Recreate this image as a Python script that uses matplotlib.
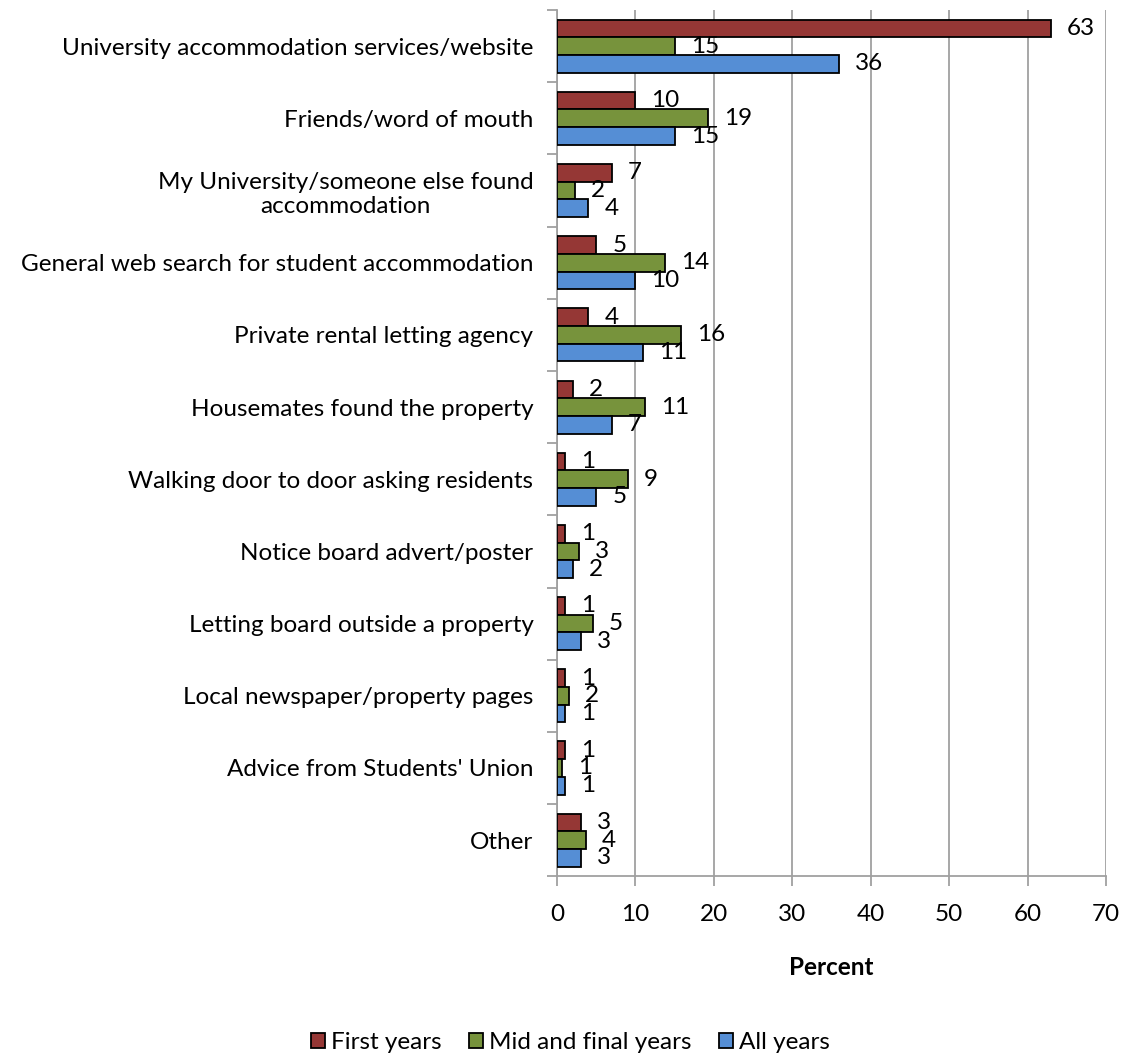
import numpy as np
import matplotlib.pyplot as plt
from matplotlib.ticker import FixedLocator

plt.rcParams['font.family'] = ['Lato', 'DejaVu Sans']
plt.rcParams['font.size'] = 17.5

categories = [
    'University accommodation services/website',
    'Friends/word of mouth',
    'My University/someone else found\naccommodation',
    'General web search for student accommodation',
    'Private rental letting agency',
    'Housemates found the property',
    'Walking door to door asking residents',
    'Notice board advert/poster',
    'Letting board outside a property',
    'Local newspaper/property pages',
    "Advice from Students' Union",
    'Other',
]
first_years = [63, 10, 7, 5, 4, 2, 1, 1, 1, 1, 1, 3]
mid_final = [15, 19.3, 2.3, 13.8, 15.8, 11.2, 9, 2.8, 4.6, 1.5, 0.7, 3.7]
all_years = [36, 15, 4, 10, 11, 7, 5, 2, 3, 1, 1, 3]

series = [
    ('First years', first_years, '#953735'),
    ('Mid and final years', mid_final, '#77933C'),
    ('All years', all_years, '#558ED5'),
]

n = len(categories)
y = np.arange(n)[::-1]
h = 0.245

fig = plt.figure(figsize=(11.23, 10.57), dpi=100)
ax = fig.add_axes([0.496, 0.171, 0.489, 0.8195])

for i, (name, vals, col) in enumerate(series):
    pos = y + (1 - i) * h
    bars = ax.barh(pos, vals, height=h, color=col, edgecolor='black',
                   linewidth=1.3, label=name, zorder=3)
    # value labels just past the end of each bar
    for b, v in zip(bars, vals):
        ax.annotate(f'{v:.0f}', (b.get_width(), b.get_y() + b.get_height() / 2),
                    xytext=(16, 0), textcoords='offset pixels',
                    ha='left', va='center', zorder=4)

ax.set_xlim(0, 70)
ax.set_ylim(-0.5, n - 0.5)
ax.set_xticks(np.arange(0, 71, 10))
ax.grid(axis='x', color='#A0A0A0', linewidth=1.3, zorder=0)
ax.set_yticks(y)
ax.set_yticklabels(categories, multialignment='center')
ax.yaxis.set_minor_locator(FixedLocator(np.arange(-0.5, n, 1)))
ax.tick_params(axis='y', which='major', length=0, pad=17)
ax.tick_params(axis='y', which='minor', length=7, width=1.3, color='#A0A0A0')
ax.tick_params(axis='x', length=7, width=1.3, color='#A0A0A0', pad=13)

for s in ['top', 'right']:
    ax.spines[s].set_visible(False)
for s in ['left', 'bottom']:
    ax.spines[s].set_color('#A0A0A0')
    ax.spines[s].set_linewidth(1.3)

ax.set_xlabel('Percent', fontweight='bold', labelpad=22)

fig.legend(loc='center', bbox_to_anchor=(0.508, 0.0135), ncol=3, frameon=False,
           handlelength=0.6, handleheight=0.6, handletextpad=0.25,
           columnspacing=1.1, borderpad=0)

fig.savefig('out.png', dpi=100)
